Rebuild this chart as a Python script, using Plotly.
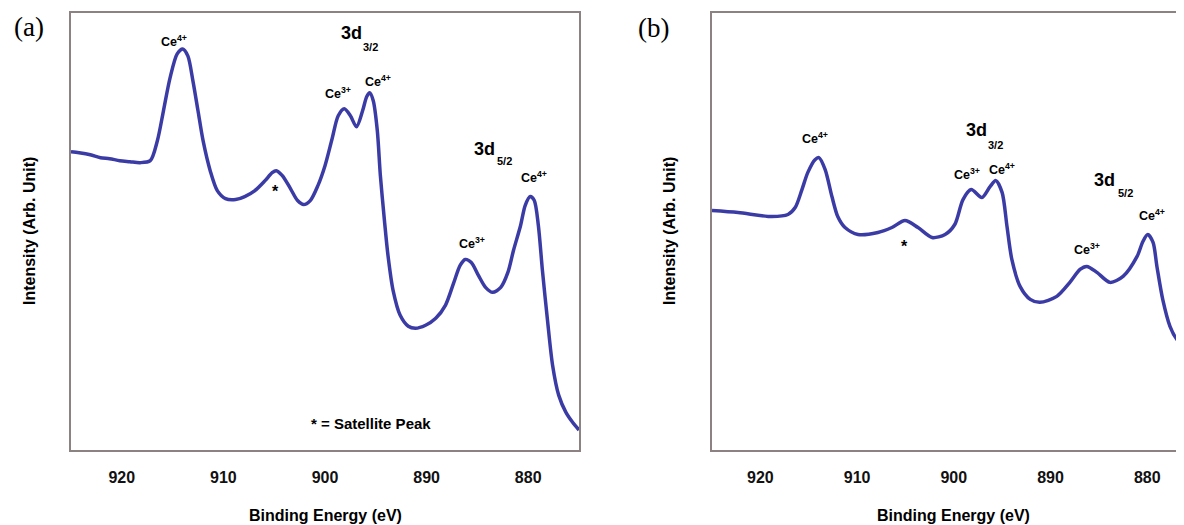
import plotly.graph_objects as go

# ---------------- data ----------------
energy_a = [925.0, 924.2, 923.1, 922.1, 921.2, 920.2, 919.2, 918.2, 917.2, 916.5, 915.9,
            915.25, 914.55, 914.0, 913.5, 913.0, 912.5, 912.0, 911.3, 910.6, 909.8,
            908.8, 907.9, 906.9, 905.9, 905.2, 904.8, 904.2, 903.4, 902.7, 902.1,
            901.45, 900.7, 900.0, 899.3, 898.7, 898.1, 897.5, 896.9, 896.3, 895.9,
            895.6, 895.25, 894.85, 894.55, 894.15, 893.8, 893.3, 892.6, 891.8, 891.1,
            890.1, 889.1, 888.15, 887.35, 886.7, 886.2, 885.6, 884.9, 884.2, 883.5,
            882.7, 882.0, 881.45, 880.75, 880.3, 879.8, 879.4, 879.0, 878.6, 878.1,
            877.6, 877.0, 876.3, 875.65, 875.0]
intensity_a = [298, 297, 295, 292, 291, 289, 288, 287, 289, 309, 339,
               372, 396, 401, 394, 369, 339, 309, 279, 259, 251,
               250, 253, 259, 269, 277, 279, 274, 261, 249, 245,
               249, 264, 284, 311, 334, 341, 334, 323, 339, 353,
               357, 349, 319, 274, 229, 194, 159, 134, 123, 121,
               124, 131, 144, 166, 184, 190, 187, 174, 162, 157,
               162, 177, 199, 224, 244, 253, 249, 224, 179, 129,
               84, 54, 37, 27, 19]

energy_b = [925.0, 922.3, 918.8, 917.15, 916.4, 915.7, 915.1, 914.35, 913.95, 913.3,
            912.6, 912.0, 911.25, 909.9, 907.85, 906.4, 905.05, 903.7, 902.25, 900.9,
            899.9, 899.05, 898.2, 897.1, 896.25, 895.65, 895.0, 894.5, 894.0, 893.15,
            892.1, 891.1, 889.35, 888.0, 886.95, 886.25, 885.2, 883.85, 882.5, 881.05,
            880.45, 879.95, 879.4, 879.0, 878.4, 877.65, 876.95, 876.2]
intensity_b = [239, 237, 233, 235, 242, 260, 277, 290, 292, 280,
               253, 233, 222, 215, 217, 222, 229, 222, 212, 215,
               225, 250, 260, 252, 263, 269, 257, 223, 190, 163,
               150, 147, 153, 167, 180, 183, 177, 167, 173, 193,
               208, 215, 207, 183, 150, 123, 110, 103]

tick_vals = [920, 910, 900, 890, 880]
tick_text = ["920", "910", "900", "890", "880"]

# peak labels: (energy, intensity, text, size)
labels_a = [
    (914.9, 409, "Ce<sup>4+</sup>", 12.5),
    (898.7, 357, "Ce<sup>3+</sup>", 12.5),
    (894.75, 369, "Ce<sup>4+</sup>", 12.5),
    (885.5, 206, "Ce<sup>3+</sup>", 12.5),
    (879.4, 273, "Ce<sup>4+</sup>", 12.5),
    (897.4, 417, "3d", 18),
    (895.5, 403, "3/2", 11),
    (884.3, 301, "3d", 18),
    (882.3, 289, "5/2", 11),
    (904.9, 258, "*", 16),
    (895.45, 26, "* = Satellite Peak", 15),
]
labels_b = [
    (914.35, 312, "Ce<sup>4+</sup>", 12.5),
    (898.65, 276, "Ce<sup>3+</sup>", 12.5),
    (895.0, 281, "Ce<sup>4+</sup>", 12.5),
    (886.25, 200, "Ce<sup>3+</sup>", 12.5),
    (879.5, 235, "Ce<sup>4+</sup>", 12.5),
    (897.7, 320, "3d", 18),
    (895.7, 305, "3/2", 11),
    (884.4, 270, "3d", 18),
    (882.3, 257, "5/2", 11),
    (905.05, 203, "*", 16),
]

LINE = "#3b3ba6"
AXIS = "#8c8282"
SANS = "Liberation Sans, Arial, sans-serif"
SERIF = "Liberation Serif, Times New Roman, serif"

OFF = 8                      # page body margin in the browser
W, H = 1184 - OFF, 525 - OFF
PLOT_TOP, PLOT_BOT = 13, 450  # page pixels
PH = PLOT_BOT - PLOT_TOP


def px(xp):
    return (xp - OFF) / W


def py(yp):
    return (PLOT_BOT - yp) / PH


fig = go.Figure()
fig.add_trace(go.Scatter(x=energy_a, y=intensity_a, mode="lines",
                         line=dict(color=LINE, width=3.5, shape="spline", smoothing=0.8),
                         xaxis="x", yaxis="y", showlegend=False, hoverinfo="skip"))
fig.add_trace(go.Scatter(x=energy_b, y=intensity_b, mode="lines",
                         line=dict(color=LINE, width=3.5, shape="spline", smoothing=0.8),
                         xaxis="x2", yaxis="y2", showlegend=False, hoverinfo="skip"))

xcommon = dict(showgrid=False, zeroline=False, showline=True, linecolor=AXIS, linewidth=1.5,
               mirror=True, ticks="", tickvals=tick_vals, ticktext=tick_text,
               tickfont=dict(family=SANS, size=16, color="#111", weight="bold"),
               ticklabelstandoff=12)
ycommon = dict(showgrid=False, zeroline=False, showline=True, linecolor=AXIS, linewidth=1.5,
               showticklabels=False, ticks="", range=[-1, 437])

fig.update_layout(
    width=W, height=H,
    margin=dict(l=0, r=0, t=PLOT_TOP - OFF, b=H - (PLOT_BOT - OFF)),
    paper_bgcolor="white", plot_bgcolor="white",
    xaxis=dict(domain=[px(71), px(579)], range=[925, 875], anchor="y", **xcommon),
    yaxis=dict(domain=[0, 1], anchor="x", mirror=True, **ycommon),
    xaxis2=dict(domain=[px(712), 1.0], range=[925, 876.2], anchor="y2", **xcommon),
    yaxis2=dict(domain=[0, 1], anchor="x2", mirror=False, **ycommon),
)

ann = []
for (ex, iy, txt, sz) in labels_a:
    ann.append(dict(x=ex, y=iy, xref="x", yref="y", text="<b>" + txt + "</b>", showarrow=False,
                    xanchor="center", yanchor="middle",
                    font=dict(family=SANS, size=sz, color="black")))
for (ex, iy, txt, sz) in labels_b:
    ann.append(dict(x=ex, y=iy, xref="x2", yref="y2", text="<b>" + txt + "</b>", showarrow=False,
                    xanchor="center", yanchor="middle",
                    font=dict(family=SANS, size=sz, color="black")))

for cx in (325, 953):
    ann.append(dict(x=px(cx), y=py(515), xref="paper", yref="paper", text="<b>Binding Energy (eV)</b>",
                    showarrow=False, xanchor="center", yanchor="middle",
                    font=dict(family=SANS, size=16, color="black")))
for cx in (30, 670):
    ann.append(dict(x=px(cx), y=py(231), xref="paper", yref="paper", text="<b>Intensity (Arb. Unit)</b>",
                    textangle=-90, showarrow=False, xanchor="center", yanchor="middle",
                    font=dict(family=SANS, size=16, color="black")))
ann.append(dict(x=px(29), y=py(27), xref="paper", yref="paper", text="(a)", showarrow=False,
                xanchor="center", yanchor="middle", font=dict(family=SERIF, size=27, color="black")))
ann.append(dict(x=px(653), y=py(28), xref="paper", yref="paper", text="(b)", showarrow=False,
                xanchor="center", yanchor="middle", font=dict(family=SERIF, size=27, color="black")))
fig.update_layout(annotations=ann)

fig.write_html("out.html")
